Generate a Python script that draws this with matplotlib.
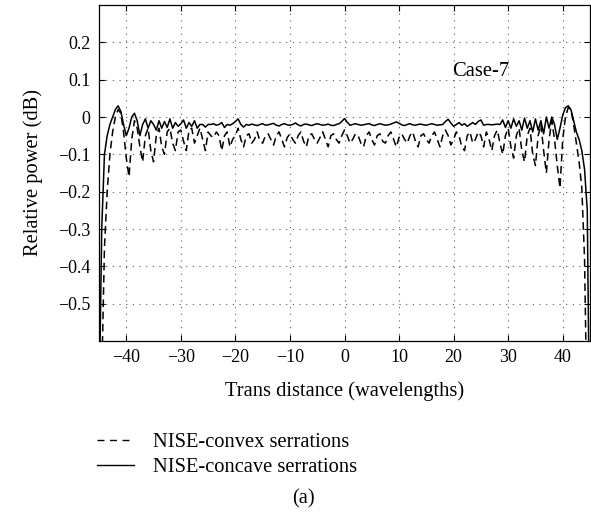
import numpy as np
import matplotlib
matplotlib.use("Agg")
import matplotlib.pyplot as plt
from matplotlib.lines import Line2D

plt.rcParams['font.family'] = ['Liberation Serif', 'DejaVu Serif']

# sample positions (wavelengths), step 0.5 from -45 to 45
x = np.arange(-45.0, 45.01, 0.5)

# NISE-concave serrations (solid)
concave = [
    -0.80, -0.30, -0.10, -0.05, -0.02, 0.00, 0.02, 0.03, 0.015, -0.02,
    -0.05, -0.03, 0.00, 0.01, -0.01, -0.05, -0.02, -0.005, -0.03, -0.01,
    -0.02, -0.035, -0.01, -0.03, -0.012, -0.028, -0.005, -0.03, -0.015, -0.025,
    -0.018, -0.008, -0.03, -0.015, -0.025, -0.01, -0.03, -0.02, -0.02, -0.027,
    -0.02, -0.02, -0.018, -0.022, -0.02, -0.015, -0.028, -0.02, -0.022, -0.018,
    -0.012, -0.005, -0.02, -0.027, -0.02, -0.022, -0.019, -0.021, -0.023, -0.02,
    -0.018, -0.022, -0.021, -0.019, -0.017, -0.022, -0.024, -0.02, -0.018, -0.021,
    -0.022, -0.02, -0.016, -0.021, -0.024, -0.02, -0.019, -0.021, -0.023, -0.02,
    -0.018, -0.02, -0.022, -0.021, -0.019, -0.022, -0.023, -0.02, -0.018, -0.012,
    -0.004, -0.014, -0.022, -0.02, -0.018, -0.02, -0.022, -0.021, -0.019, -0.018,
    -0.021, -0.023, -0.02, -0.018, -0.02, -0.022, -0.021, -0.019, -0.016, -0.013,
    -0.017, -0.021, -0.023, -0.02, -0.018, -0.021, -0.022, -0.02, -0.019, -0.021,
    -0.022, -0.02, -0.018, -0.02, -0.022, -0.021, -0.02, -0.012, -0.006, -0.016,
    -0.025, -0.02, -0.015, -0.022, -0.018, -0.025, -0.02, -0.015, -0.02, -0.012,
    -0.008, -0.022, -0.02, -0.02, -0.021, -0.02, -0.019, -0.02, -0.008, -0.028,
    -0.01, -0.03, -0.005, -0.025, -0.01, -0.035, -0.003, -0.03, -0.01, -0.04,
    -0.005, -0.035, -0.01, -0.045, 0.00, -0.03, 0.00, -0.02, -0.06, -0.03,
    0.005, 0.025, 0.03, 0.02, -0.01, -0.04, -0.06, -0.09, -0.14, -0.25,
    -0.95,
]

# NISE-convex serrations (dashed)
convex = [
    -1.00, -0.70, -0.35, -0.20, -0.10, -0.04, 0.00, 0.02, 0.01, -0.04,
    -0.11, -0.16, -0.06, -0.01, -0.03, -0.08, -0.12, -0.05, -0.03, -0.09,
    -0.12, -0.05, -0.03, -0.08, -0.10, -0.04, -0.03, -0.07, -0.09, -0.04,
    -0.035, -0.065, -0.09, -0.035, -0.03, -0.07, -0.05, -0.03, -0.06, -0.09,
    -0.04, -0.05, -0.055, -0.04, -0.05, -0.09, -0.05, -0.04, -0.08, -0.06,
    -0.05, -0.03, -0.06, -0.08, -0.05, -0.045, -0.07, -0.06, -0.04, -0.065,
    -0.07, -0.05, -0.045, -0.06, -0.075, -0.05, -0.04, -0.06, -0.08, -0.055,
    -0.045, -0.06, -0.07, -0.05, -0.04, -0.065, -0.08, -0.05, -0.045, -0.06,
    -0.07, -0.055, -0.04, -0.06, -0.08, -0.05, -0.045, -0.06, -0.07, -0.05,
    -0.035, -0.05, -0.07, -0.06, -0.045, -0.05, -0.07, -0.08, -0.05, -0.04,
    -0.06, -0.075, -0.05, -0.045, -0.065, -0.07, -0.05, -0.04, -0.06, -0.08,
    -0.055, -0.045, -0.06, -0.07, -0.05, -0.04, -0.065, -0.08, -0.05, -0.045,
    -0.06, -0.07, -0.05, -0.04, -0.06, -0.08, -0.05, -0.035, -0.05, -0.075,
    -0.06, -0.04, -0.05, -0.08, -0.09, -0.05, -0.04, -0.07, -0.06, -0.04,
    -0.05, -0.08, -0.04, -0.06, -0.09, -0.05, -0.035, -0.07, -0.10, -0.05,
    -0.03, -0.08, -0.11, -0.05, -0.03, -0.09, -0.12, -0.05, -0.03, -0.10,
    -0.13, -0.05, -0.02, -0.09, -0.15, -0.06, -0.01, -0.06, -0.13, -0.19,
    -0.06, 0.00, 0.025, 0.02, -0.02, -0.07, -0.12, -0.19, -0.38, -0.85,
    -1.10,
]

xticks = [-40, -30, -20, -10, 0, 10, 20, 30, 40]
yticks = [-0.5, -0.4, -0.3, -0.2, -0.1, 0, 0.1, 0.2]
ytick_labels = ['\u22120.5', '\u22120.4', '\u22120.3', '\u22120.2', '\u22120.1', '0', '0.1', '0.2']
legend_labels = ['NISE-convex serrations', 'NISE-concave serrations']

fig = plt.figure(figsize=(5.91, 5.14), dpi=100)
ax = fig.add_axes([99/591, 1 - 341/514, (590 - 99)/591, (341 - 5)/514])

ax.plot(x, convex, color='black', linestyle=(0, (5, 3)), linewidth=1.1)
ax.plot(x, concave, color='black', linestyle='-', linewidth=1.1)

ax.set_xlim(-45, 45)
ax.set_ylim(-0.6, 0.3)
ax.set_xticks(xticks)
ax.set_yticks(yticks)
ax.set_yticklabels(ytick_labels)
ax.grid(True, color='0.35', linestyle=(0, (1, 5)), linewidth=0.8)
ax.tick_params(direction='in', top=True, right=True, length=4, labelsize=13, pad=6)
for s in ax.spines.values():
    s.set_linewidth(0.9)

ax.set_xlabel('Trans distance (wavelengths)', fontsize=14.8, labelpad=11)
ax.set_ylabel('Relative power (dB)', fontsize=14.8, labelpad=11)

ax.text(19.8, 0.123, 'Case-7', fontsize=14.8, ha='left', va='center')

handles = [Line2D([], [], color='black', linestyle=(0, (5, 4)), linewidth=1.0),
           Line2D([], [], color='black', linestyle='-', linewidth=1.0)]
fig.legend(handles, legend_labels, loc='upper left', bbox_to_anchor=(83/591, 1 - 418/514),
           frameon=False, fontsize=14.8, handlelength=1.8, handletextpad=0.9,
           labelspacing=0.3, borderpad=0.2)

fig.text(303/591, 1 - 499/514, '(a)', fontsize=14.8, ha='center', va='center')

fig.savefig('out.png', dpi=100)
